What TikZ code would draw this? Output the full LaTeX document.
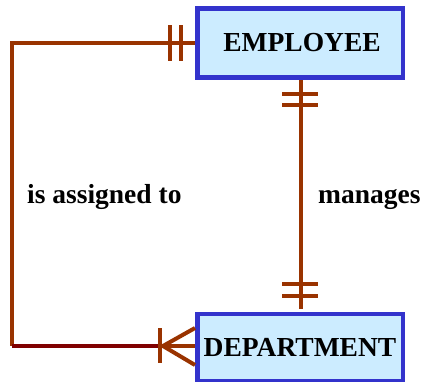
\documentclass[tikz,border=0pt]{standalone}
\usepackage{fontspec}
\setmainfont{Liberation Serif}
\definecolor{brn}{HTML}{993300}
\definecolor{drd}{HTML}{800000}
\definecolor{bord}{HTML}{3333CC}
\definecolor{fillb}{HTML}{CCECFF}
\begin{document}
\begin{tikzpicture}[x=1pt,y=-1pt,
  entity/.style={draw=bord,fill=fillb,line width=4.5pt,minimum width=205.5pt,inner sep=0pt,
    font=\fontsize{27.5}{31}\selectfont\bfseries},
  rel/.style={draw=brn,line width=4pt},
  lbl/.style={font=\fontsize{27.5}{31}\selectfont\bfseries,inner sep=0pt}]
\useasboundingbox (0,0) rectangle (421,381);
\node[entity,minimum height=69pt] (emp) at (300,43) {\kern4pt EMPLOYEE};
\node[entity,minimum height=67pt,anchor=north] (dep) at (300,311.5) {\raisebox{-3pt}{DEPARTMENT}};
% left relationship
\coordinate (tl) at (12,43);
\coordinate (bl) at (12,346);
\coordinate (crow) at (159.5,346);
\coordinate (tip) at (163,346);
\draw[rel] (emp.west |- tl) -- (tl) -- (bl);
\draw[draw=drd,line width=4pt] (bl) -- (crow);
\draw[rel] (crow) -- (dep.west |- crow);
\draw[rel] (169.5,25) -- (169.5,61);
\draw[rel] (181,25) -- (181,61);
\draw[rel] (159.5,328) -- (159.5,363);
\draw[rel] (tip) -- (195,328);
\draw[rel] (tip) -- (195,365);
% right relationship
\draw[rel] (301,80) -- (301,309);
\draw[rel] (282,93.5) -- (318,93.5);
\draw[rel] (282,105) -- (318,105);
\draw[rel] (282,284) -- (318,284);
\draw[rel] (282,296) -- (318,296);
\node[lbl,anchor=base west] (l1) at (27,203) {is assigned to};
\node[lbl,anchor=base west] (l2) at (318,203) {manages};
\end{tikzpicture}
\end{document}
